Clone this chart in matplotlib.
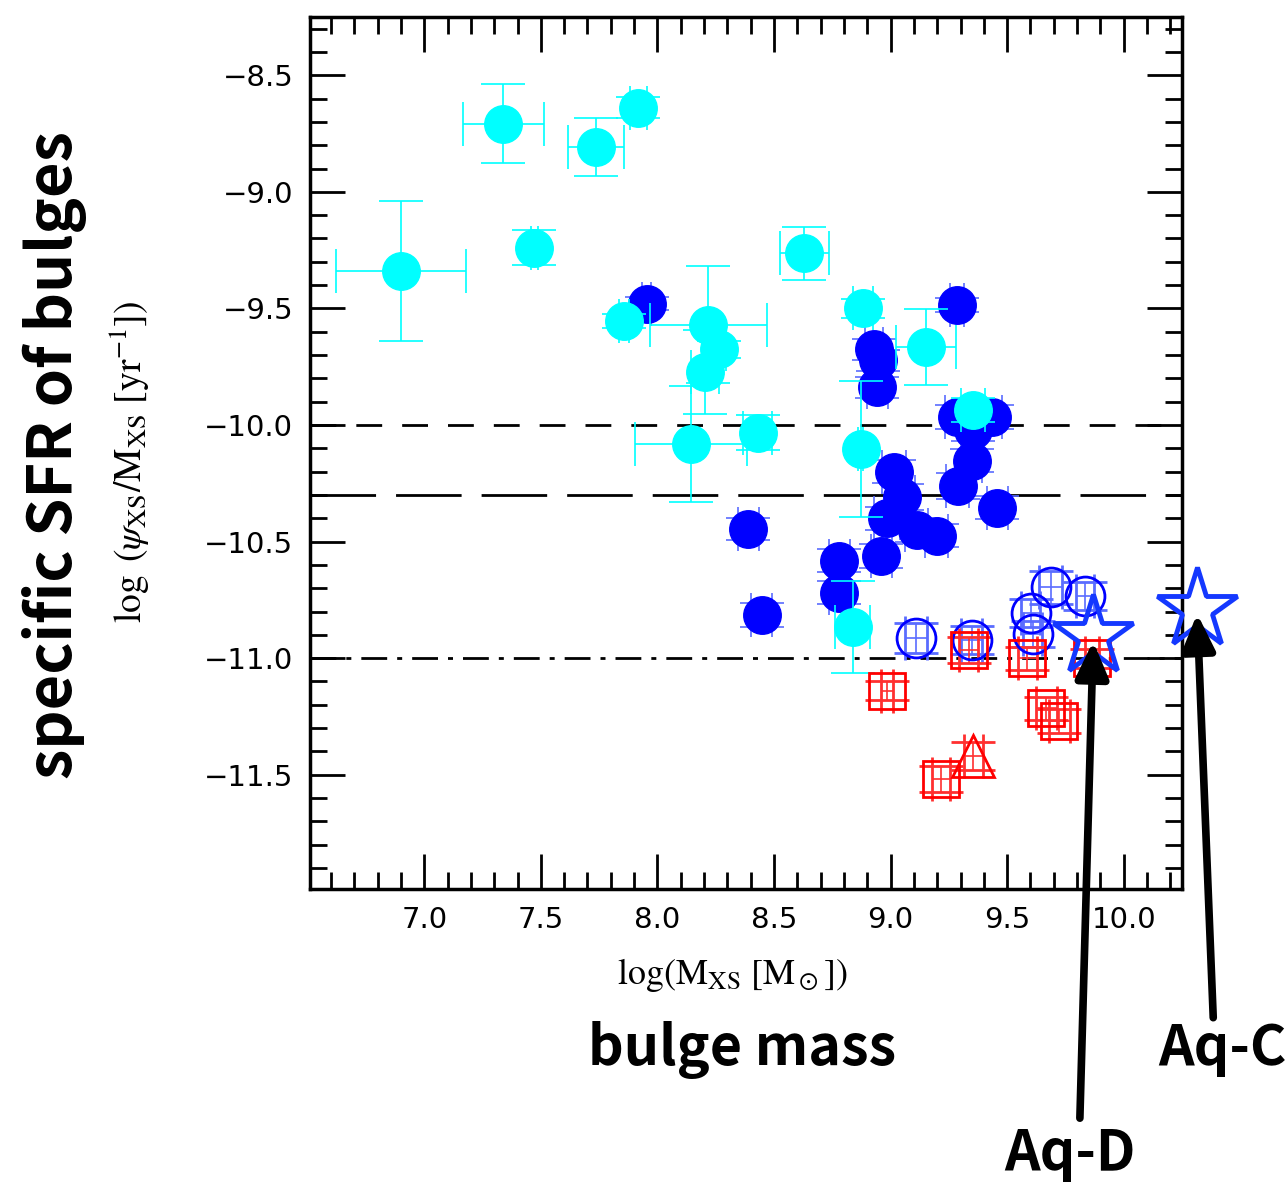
import matplotlib
matplotlib.use("Agg")
import matplotlib.pyplot as plt
from matplotlib.ticker import MultipleLocator

plt.rcParams['mathtext.fontset'] = 'stix'

# --- data ---
# cyan filled circles
cyan_x = [6.901, 7.339, 7.737, 7.918, 7.472, 8.629, 7.858, 8.218, 8.266,
          8.204, 8.144, 8.430, 8.883, 9.152, 8.872, 9.353, 8.838]
cyan_y = [-9.339, -8.707, -8.807, -8.640, -9.240, -9.264, -9.554, -9.569, -9.676,
          -9.772, -10.082, -10.033, -9.500, -9.665, -10.103, -9.936, -10.865]
cyan_xerr = [0.28, 0.174, 0.121, 0.036, 0.016, 0.105, 0.021, 0.25, 0.03,
             0.06, 0.24, 0.063, 0.043, 0.129, 0.01, 0.05, 0.075]
cyan_yerr = [0.30, 0.171, 0.124, 0.045, 0.075, 0.113, 0.029, 0.25, 0.037,
             0.18, 0.25, 0.075, 0.041, 0.163, 0.29, 0.05, 0.197]

# blue filled circles
blue_x = [7.954, 9.287, 8.929, 8.948, 8.944, 9.284, 9.434, 9.355, 9.348, 9.288, 9.458,
          9.015, 9.048, 8.984, 9.112, 9.198, 8.961, 8.390, 8.447, 8.780, 8.780]
blue_y = [-9.479, -9.486, -9.674, -9.722, -9.839, -9.965, -9.965, -10.022, -10.153, -10.262, -10.355,
          -10.200, -10.308, -10.400, -10.450, -10.475, -10.562, -10.447, -10.815, -10.582, -10.719]
blue_xerr = [0.018, 0.030, 0.040, 0.045, 0.045, 0.050, 0.045, 0.040, 0.045, 0.050, 0.045,
             0.050, 0.055, 0.055, 0.050, 0.050, 0.045, 0.046, 0.046, 0.045, 0.045]
blue_yerr = [0.026, 0.030, 0.045, 0.045, 0.045, 0.050, 0.050, 0.045, 0.050, 0.055, 0.050,
             0.050, 0.055, 0.050, 0.050, 0.050, 0.050, 0.048, 0.050, 0.050, 0.050]

# blue open circles
ocirc_x = [9.109, 9.348, 9.601, 9.610, 9.687, 9.834]
ocirc_y = [-10.915, -10.922, -10.805, -10.896, -10.696, -10.733]
ocirc_xerr = [0.046, 0.045, 0.040, 0.040, 0.050, 0.040]
ocirc_yerr = [0.064, 0.060, 0.060, 0.055, 0.070, 0.060]

# red open squares
sq_x = [8.985, 9.335, 9.587, 9.667, 9.723, 9.863, 9.217]
sq_y = [-11.140, -10.965, -11.000, -11.215, -11.269, -11.000, -11.518]
sq_xerr = [0.025, 0.040, 0.040, 0.045, 0.045, 0.030, 0.040]
sq_yerr = [0.040, 0.055, 0.050, 0.050, 0.050, 0.040, 0.055]

# red open triangle
tri_x = [9.355]
tri_y = [-11.418]
tri_xerr = [0.040]
tri_yerr = [0.060]

# simulated galaxies (stars)
aq_names = ['Aq-D', 'Aq-C']
aq_x = [9.869, 10.315]
aq_y = [-10.907, -10.789]
aq_tail_x = [9.812, 10.384]
aq_tail_y = [-12.973, -12.542]
aq_text_x = [9.769, 10.423]
aq_text_y = [-13.125, -12.675]

hlines_y = [-10.0, -10.3, -11.0]

xticks = [7.0, 7.5, 8.0, 8.5, 9.0, 9.5, 10.0]
xtick_labels = ['7.0', '7.5', '8.0', '8.5', '9.0', '9.5', '10.0']
yticks = [-8.5, -9.0, -9.5, -10.0, -10.5, -11.0, -11.5]
ytick_labels = ['\u22128.5', '\u22129.0', '\u22129.5', '\u221210.0', '\u221210.5', '\u221211.0', '\u221211.5']

big_font = ['Noto Sans CJK JP', 'DejaVu Sans']

# --- figure ---
fig = plt.figure(figsize=(12.88, 11.84), dpi=100)
ax = fig.add_axes([310 / 1288, 295 / 1184, 872 / 1288, 872 / 1184])
ax.set_xlim(6.51, 10.25)
ax.set_ylim(-11.99, -8.25)

# reference lines
ax.axhline(hlines_y[0], color='black', lw=2, linestyle=(0, (9.3, 7.2)), zorder=1)
ax.axhline(hlines_y[1], color='black', lw=2, linestyle=(0, (23.6, 7.2)), zorder=1)
ax.axhline(hlines_y[2], color='black', lw=2, linestyle=(0, (9.3, 3.6, 1.8, 3.6)), zorder=1)

ax.errorbar(blue_x, blue_y, xerr=blue_xerr, yerr=blue_yerr, fmt='o', ms=27,
            mfc='#0000ff', mec='#0000ff', ecolor='#5a6cff', elinewidth=1.2,
            capsize=16, capthick=1.2, zorder=2)
ax.errorbar(cyan_x, cyan_y, xerr=cyan_xerr, yerr=cyan_yerr, fmt='o', ms=27,
            mfc='#00ffff', mec='#00ffff', ecolor='#00ffff', elinewidth=1.2,
            capsize=16, capthick=1.2, zorder=3)
ax.errorbar(ocirc_x, ocirc_y, xerr=ocirc_xerr, yerr=ocirc_yerr, fmt='o', ms=28,
            mfc='none', mec='#0000ff', mew=2, ecolor='#5a6cff', elinewidth=1.2,
            capsize=16, capthick=1.2, zorder=4)
ax.errorbar(sq_x, sq_y, xerr=sq_xerr, yerr=sq_yerr, fmt='s', ms=26.5,
            mfc='none', mec='#ff0000', mew=2, ecolor='#ff3030', elinewidth=1.2,
            capsize=16, capthick=1.2, zorder=4)
ax.errorbar(tri_x, tri_y, xerr=tri_xerr, yerr=tri_yerr, fmt='^', ms=30,
            mfc='none', mec='#ff0000', mew=2, ecolor='#ff3030', elinewidth=1.2,
            capsize=16, capthick=1.2, zorder=4)

ax.plot(aq_x, aq_y, linestyle='none', marker='*', ms=60, mfc='none',
        mec='#1438ff', mew=3.5, clip_on=False, zorder=5)

for i in range(len(aq_names)):
    ax.annotate('', xy=(aq_x[i], aq_y[i] - 0.02), xytext=(aq_tail_x[i], aq_tail_y[i]),
                xycoords='data', textcoords='data', annotation_clip=False,
                arrowprops=dict(arrowstyle='-|>,head_length=1.0,head_width=0.45',
                                mutation_scale=22, lw=5.5, color='black',
                                shrinkA=0, shrinkB=0),
                zorder=6)
    ax.text(aq_text_x[i], aq_text_y[i], aq_names[i], ha='center', va='center',
            fontsize=40, weight='bold', family=big_font, clip_on=False)

# axes styling
ax.set_xticks(xticks)
ax.set_xticklabels(xtick_labels)
ax.set_yticks(yticks)
ax.set_yticklabels(ytick_labels)
ax.xaxis.set_minor_locator(MultipleLocator(0.1))
ax.yaxis.set_minor_locator(MultipleLocator(0.1))
ax.tick_params(which='both', direction='in', top=True, right=True, width=2)
ax.tick_params(which='major', length=25, labelsize=21, pad=12)
ax.tick_params(which='minor', length=12.5)
for sp in ax.spines.values():
    sp.set_linewidth(2.5)

fig.text(732 / 1288, 1 - 975 / 1184, r'$\log(\mathrm{M_{XS}}\ [\mathrm{M}_\odot])$',
         ha='center', va='center', fontsize=26)
fig.text(130 / 1288, 1 - 462 / 1184,
         r'$\log\ (\psi_{\mathrm{XS}}/\mathrm{M_{XS}}\ [\mathrm{yr}^{-1}])$',
         ha='center', va='center', rotation=90, fontsize=27)

fig.text(742 / 1288, 1 - 1050 / 1184, 'bulge mass', ha='center', va='center',
         fontsize=40, weight='bold', family=big_font)
fig.text(55 / 1288, 1 - 455 / 1184, 'specific SFR of bulges', ha='center', va='center',
         rotation=90, fontsize=44, weight='bold', family=big_font)

fig.savefig('out.png', dpi=100)
